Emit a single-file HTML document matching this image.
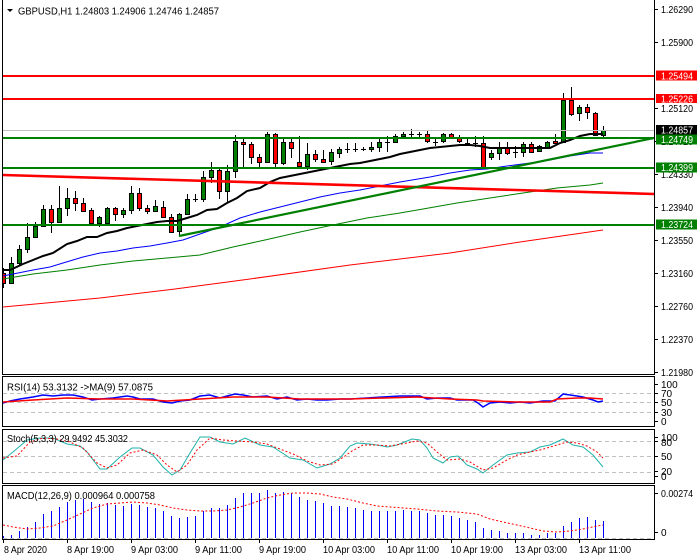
<!DOCTYPE html>
<html><head><meta charset="utf-8"><style>
html,body{margin:0;padding:0;background:#fff;}
svg{display:block;font-family:"Liberation Sans",sans-serif;}
</style></head><body>
<svg width="700" height="560" viewBox="0 0 700 560" xmlns="http://www.w3.org/2000/svg">
<defs>
<clipPath id="cm"><rect x="3" y="0" width="651" height="374"/></clipPath>
<clipPath id="cr"><rect x="3" y="377" width="651" height="49"/></clipPath>
<clipPath id="cs"><rect x="3" y="430" width="651" height="53"/></clipPath>
<clipPath id="cd"><rect x="3" y="486" width="651" height="53"/></clipPath>
</defs>
<rect width="700" height="560" fill="#fff"/>

<!-- MAIN PANE -->
<g clip-path="url(#cm)">
<path fill="none" stroke="#000" stroke-width="1" d="M3.5 268V288M11.5 257V283M19.5 245V265M27.5 223V253M35.5 222V238M43.5 205V227M51.5 205V233M59.5 186V222M67.5 188V216M75.5 191V211M83.5 198V212M91.5 208V224M99.5 216V227M107.5 207V224M115.5 207V221M123.5 208V218M131.5 186V214M139.5 188V211M147.5 205V214M155.5 200V212M163.5 201V218M171.5 214V233M179.5 213V236M187.5 194V215M195.5 194V202M203.5 171V202M211.5 162V183M219.5 167V199M227.5 165V203M235.5 135V178M243.5 139V167M251.5 142V164M259.5 154V167M267.5 132V163M275.5 133V167M283.5 139V165M291.5 139V158M299.5 136V167M307.5 143V170M315.5 150V162M323.5 150V163M331.5 149V165M339.5 147V158M347.5 143V153M355.5 143V152M363.5 147V151M371.5 142V152M379.5 137V152M387.5 136V152M395.5 134V143M403.5 132V138M411.5 129V139M419.5 132V137M427.5 131V143M435.5 138V146M443.5 133V143M451.5 133V139M459.5 135V143M467.5 138V144M475.5 136V147M483.5 136V168M491.5 150V160M499.5 142V160M507.5 142V155M515.5 146V158M523.5 142V157M531.5 142V153M539.5 145V152M547.5 141V148M555.5 134V144M563.5 93V143M571.5 87V116M579.5 105V121M587.5 104V119M595.5 112V136M603.5 126V137"/>
<path fill="none" stroke="#000" stroke-width="1" d="M193 199.5H198M345 149.5H350M353 149.5H358M361 149.5H366M385 142.5H390M409 134.5H414M417 134.5H422M433 142.5H438M465 143.5H470M473 143.5H478M513 152.5H518"/>
<g fill="#008000" stroke="#000" stroke-width="1">
<rect x="9.5" y="263.5" width="4" height="20"/>
<rect x="17.5" y="249.5" width="4" height="14"/>
<rect x="25.5" y="237.5" width="4" height="12"/>
<rect x="33.5" y="226.5" width="4" height="11"/>
<rect x="41.5" y="209.5" width="4" height="17"/>
<rect x="57.5" y="208.5" width="4" height="14"/>
<rect x="65.5" y="198.5" width="4" height="10"/>
<rect x="97.5" y="217.5" width="4" height="6"/>
<rect x="105.5" y="208.5" width="4" height="15"/>
<rect x="121.5" y="210.5" width="4" height="4"/>
<rect x="129.5" y="193.5" width="4" height="17"/>
<rect x="153.5" y="206.5" width="4" height="5"/>
<rect x="177.5" y="214.5" width="4" height="17"/>
<rect x="185.5" y="199.5" width="4" height="15"/>
<rect x="201.5" y="177.5" width="4" height="22"/>
<rect x="209.5" y="170.5" width="4" height="7"/>
<rect x="225.5" y="171.5" width="4" height="20"/>
<rect x="233.5" y="141.5" width="4" height="30"/>
<rect x="265.5" y="134.5" width="4" height="28"/>
<rect x="281.5" y="142.5" width="4" height="21"/>
<rect x="305.5" y="154.5" width="4" height="12"/>
<rect x="329.5" y="152.5" width="4" height="9"/>
<rect x="337.5" y="149.5" width="4" height="4"/>
<rect x="369.5" y="147.5" width="4" height="2"/>
<rect x="377.5" y="142.5" width="4" height="5"/>
<rect x="393.5" y="136.5" width="4" height="6"/>
<rect x="401.5" y="134.5" width="4" height="2"/>
<rect x="441.5" y="134.5" width="4" height="7"/>
<rect x="489.5" y="153.5" width="4" height="4"/>
<rect x="497.5" y="148.5" width="4" height="5"/>
<rect x="521.5" y="144.5" width="4" height="8"/>
<rect x="537.5" y="146.5" width="4" height="5"/>
<rect x="545.5" y="142.5" width="4" height="5"/>
<rect x="561.5" y="100.5" width="4" height="42"/>
<rect x="577.5" y="107.5" width="4" height="6"/>
<rect x="601.5" y="130.5" width="4" height="5"/>
</g>
<g fill="#ff0000" stroke="#000" stroke-width="1">
<rect x="1.5" y="273.5" width="4" height="10"/>
<rect x="49.5" y="209.5" width="4" height="13"/>
<rect x="73.5" y="198.5" width="4" height="5"/>
<rect x="81.5" y="203.5" width="4" height="8"/>
<rect x="89.5" y="210.5" width="4" height="13"/>
<rect x="113.5" y="208.5" width="4" height="6"/>
<rect x="137.5" y="193.5" width="4" height="15"/>
<rect x="145.5" y="208.5" width="4" height="3"/>
<rect x="161.5" y="207.5" width="4" height="10"/>
<rect x="169.5" y="217.5" width="4" height="15"/>
<rect x="217.5" y="170.5" width="4" height="21"/>
<rect x="241.5" y="142.5" width="4" height="2"/>
<rect x="249.5" y="144.5" width="4" height="13"/>
<rect x="257.5" y="157.5" width="4" height="5"/>
<rect x="273.5" y="134.5" width="4" height="29"/>
<rect x="289.5" y="142.5" width="4" height="6"/>
<rect x="297.5" y="162.5" width="4" height="4"/>
<rect x="313.5" y="154.5" width="4" height="5"/>
<rect x="321.5" y="159.5" width="4" height="3"/>
<rect x="425.5" y="134.5" width="4" height="7"/>
<rect x="449.5" y="134.5" width="4" height="3"/>
<rect x="457.5" y="137.5" width="4" height="4"/>
<rect x="481.5" y="143.5" width="4" height="24"/>
<rect x="505.5" y="148.5" width="4" height="5"/>
<rect x="529.5" y="144.5" width="4" height="8"/>
<rect x="553.5" y="141.5" width="4" height="2"/>
<rect x="569.5" y="100.5" width="4" height="14"/>
<rect x="585.5" y="107.5" width="4" height="5"/>
<rect x="593.5" y="113.5" width="4" height="22"/>
</g>

<polyline fill="none" stroke="#ff0000" stroke-width="1" points="3,307 100,298 175,289 250,279 350,265 450,253 520,242 603,230"/>
<polyline fill="none" stroke="#008000" stroke-width="1" points="3,279 33,274 67,270 100,265 133,261 167,258 200,255 233,247 265,240 300,232 333,225 367,218 400,213 423,209 457,203 490,198 523,193 557,188 590,185 603,183"/>
<polyline fill="none" stroke="#0000ff" stroke-width="1" points="3,276 13,274 33,270 50,267 63,263 83,257 100,253 117,251 133,248 150,246 167,243 183,240 200,234 220,227 240,218 260,212 280,207 300,202 320,197 340,193 360,190 380,186 400,182 430,177 450,173 470,170 487,169 507,166 530,163 550,160 570,156 590,153 603,153"/>
<polyline fill="none" stroke="#000" stroke-width="2" points="3,270 10,270 23,264 33,260 43,256 53,253 67,244 77,241 87,237 97,237 107,233 117,231 127,228 137,226 147,224 157,222 167,221 177,221 187,218 197,215 207,210 217,209 227,203 237,198 247,191 260,188 270,182 280,178 290,176 300,174 310,172 320,170 330,168 340,166 350,164 360,163 370,161 380,159 390,157 400,154 410,152 420,150 430,148 440,147 450,146 460,145 470,145 480,146 490,148 550,148 560,143 570,140 580,136 590,134 603,134"/>

<line x1="3" y1="76" x2="654" y2="76" stroke="#ff0000" stroke-width="2"/>
<line x1="3" y1="99" x2="654" y2="99" stroke="#ff0000" stroke-width="2"/>
<line x1="3" y1="130.5" x2="654" y2="130.5" stroke="#c0c0c0" stroke-width="1"/>
<line x1="3" y1="138" x2="654" y2="138" stroke="#008000" stroke-width="2"/>
<line x1="3" y1="168" x2="654" y2="168" stroke="#008000" stroke-width="2"/>
<line x1="3" y1="225" x2="654" y2="225" stroke="#008000" stroke-width="2"/>
<line x1="3" y1="175" x2="654" y2="194" stroke="#ff0000" stroke-width="2.6"/>
<line x1="179" y1="236" x2="654" y2="138" stroke="#008000" stroke-width="2.2"/>
</g>

<polygon points="7,9 13,9 10,12" fill="#000"/>
<text x="18" y="14.5" font-size="10" textLength="201" lengthAdjust="spacingAndGlyphs">GBPUSD,H1  1.24803 1.24906 1.24746 1.24857</text>

<g fill="none" stroke="#000" stroke-width="1">
<path d="M2.5 0V374.5H654.5V0"/>
<rect x="2.5" y="376.5" width="652" height="50"/>
<rect x="2.5" y="429.5" width="652" height="54"/>
<rect x="2.5" y="485.5" width="652" height="54"/>
</g>

<path stroke="#000" stroke-width="1" d="M655 9.5H658M655 42.5H658M655 108.5H658M655 141.5H658M655 174.5H658M655 207.5H658M655 240.5H658M655 273.5H658M655 306.5H658M655 339.5H658M655 372.5H658M655 384.5H658M655 393.5H658M655 402.5H658M655 412.5H658M655 421.5H658M655 437.5H658M655 441.5H658M655 456.5H658M655 471.5H658M655 476.5H658M655 493.5H658M655 532.5H658"/>

<g font-size="10" fill="#000">
<text x="661" y="13" textLength="32" lengthAdjust="spacingAndGlyphs">1.26290</text>
<text x="661" y="46" textLength="32" lengthAdjust="spacingAndGlyphs">1.25900</text>
<text x="661" y="112" textLength="32" lengthAdjust="spacingAndGlyphs">1.25120</text>
<text x="661" y="145" textLength="32" lengthAdjust="spacingAndGlyphs">1.24720</text>
<text x="661" y="178" textLength="32" lengthAdjust="spacingAndGlyphs">1.24330</text>
<text x="661" y="211" textLength="32" lengthAdjust="spacingAndGlyphs">1.23940</text>
<text x="661" y="244" textLength="32" lengthAdjust="spacingAndGlyphs">1.23550</text>
<text x="661" y="277" textLength="32" lengthAdjust="spacingAndGlyphs">1.23160</text>
<text x="661" y="310" textLength="32" lengthAdjust="spacingAndGlyphs">1.22760</text>
<text x="661" y="343" textLength="32" lengthAdjust="spacingAndGlyphs">1.22370</text>
<text x="661" y="376" textLength="32" lengthAdjust="spacingAndGlyphs">1.21980</text>
</g>
<rect x="656" y="70.5" width="41" height="10" fill="#ff0000"/>
<text x="661" y="79.5" font-size="10" fill="#fff" textLength="32" lengthAdjust="spacingAndGlyphs">1.25494</text>
<rect x="656" y="94" width="41" height="9" fill="#ff0000"/>
<text x="661" y="102.5" font-size="10" fill="#fff" textLength="32" lengthAdjust="spacingAndGlyphs">1.25226</text>
<rect x="656" y="125" width="41" height="10" fill="#000"/>
<text x="661" y="133.5" font-size="10" fill="#fff" textLength="32" lengthAdjust="spacingAndGlyphs">1.24857</text>
<rect x="656" y="134.5" width="41" height="10" fill="#008000"/>
<text x="661" y="143" font-size="10" fill="#fff" textLength="32" lengthAdjust="spacingAndGlyphs">1.24749</text>
<rect x="656" y="162.5" width="41" height="10" fill="#008000"/>
<text x="661" y="171" font-size="10" fill="#fff" textLength="32" lengthAdjust="spacingAndGlyphs">1.24399</text>
<rect x="656" y="219.5" width="41" height="10" fill="#008000"/>
<text x="661" y="228" font-size="10" fill="#fff" textLength="32" lengthAdjust="spacingAndGlyphs">1.23724</text>

<g clip-path="url(#cr)">
<path stroke="#c0c0c0" stroke-width="1" stroke-dasharray="4,3" d="M3 393.5H654M3 402.5H654M3 412.5H654"/>
<polyline fill="none" stroke="#0000ff" stroke-width="1.5" points="3,403 10,401 20,399 33,397 43,395 53,396 63,395 73,395 83,397 92,400 100,399 113,398 127,396 133,397 140,399 153,399 163,402 172,403 180,401 190,400 200,396 210,395 220,398 227,396 235,394 243,395 253,397 267,396 277,399 287,397 297,400 307,399 317,400 327,400 340,399 350,399 367,398 383,397 400,396 420,396 427,399 437,398 450,398 457,400 473,400 478,403 483,407 490,403 500,402 510,403 520,402 530,403 543,401 555,401 563,394 570,395 577,396 583,397 593,400 598,402 603,401"/>
<polyline fill="none" stroke="#ff0000" stroke-width="1.5" points="3,402 33,400 67,398 100,399 133,399 167,401 200,399 233,397 267,397 300,399 350,399 417,397 450,399 477,400 483,401 517,402 550,402 557,399 577,398 590,398 603,399"/>
</g>
<text x="7" y="390.5" font-size="10" textLength="146" lengthAdjust="spacingAndGlyphs">RSI(14) 53.3132 -&gt;MA(9) 57.0875</text>
<g font-size="10">
<text x="661" y="388">100</text>
<text x="661" y="397">70</text>
<text x="661" y="406">50</text>
<text x="661" y="416">30</text>
<text x="661" y="425">0</text>
</g>

<g clip-path="url(#cs)">
<path stroke="#c0c0c0" stroke-width="1" stroke-dasharray="4,3" d="M3 441.5H654M3 456.5H654M3 472.5H654"/>
<polyline fill="none" stroke="#20b2aa" stroke-width="1" points="3,460 13,452 27,440 40,438 53,438 67,444 80,446 87,452 100,469 107,469 120,457 132,448 140,448 153,455 163,467 172,475 180,470 190,453 200,437 210,437 220,442 233,444 245,438 260,445 273,447 290,458 303,460 317,468 330,464 340,458 350,446 357,443 370,444 383,446 387,447 397,445 407,441 412,439 420,440 427,448 433,458 443,463 450,457 458,456 467,465 477,469 483,473 493,465 507,455 517,453 530,452 540,447 550,445 563,439 573,445 583,447 593,455 603,467"/>
<polyline fill="none" stroke="#ff0000" stroke-width="1" stroke-dasharray="2,2" points="3,458 17,456 30,442 43,438 57,439 70,442 83,448 97,463 107,468 117,465 130,453 143,450 157,455 167,465 177,472 187,465 197,450 210,438 223,440 237,441 253,442 267,444 280,449 293,454 307,461 320,465 333,464 345,456 352,451 363,445 377,445 390,446 407,443 417,441 427,443 437,452 447,460 460,459 470,462 483,470 493,468 507,460 517,455 530,452 540,450 557,445 567,442 577,443 587,446 597,452 603,458"/>
</g>
<text x="7" y="442" font-size="10" textLength="121" lengthAdjust="spacingAndGlyphs">Stoch(5,3,3) 29.9492 45.3032</text>
<g font-size="10">
<text x="661" y="441">100</text>
<text x="661" y="446">80</text>
<text x="661" y="460">50</text>
<text x="661" y="475">20</text>
<text x="661" y="480">0</text>
</g>

<g clip-path="url(#cd)">
<path stroke="#c0c0c0" stroke-width="1" stroke-dasharray="4,3" d="M3 538.5H654"/>
<path stroke="#0000ff" stroke-width="1" d="M3.5 538V536M11.5 538V535M19.5 538V531M27.5 538V527M35.5 538V522M43.5 538V514M51.5 538V511M59.5 538V507M67.5 538V502M75.5 538V500M83.5 538V499M91.5 538V502M99.5 538V504M107.5 538V503M115.5 538V505M123.5 538V506M131.5 538V504M139.5 538V505M147.5 538V507M155.5 538V508M163.5 538V511M171.5 538V516M179.5 538V518M187.5 538V517M195.5 538V516M203.5 538V511M211.5 538V508M219.5 538V508M227.5 538V505M235.5 538V498M243.5 538V493M251.5 538V493M259.5 538V493M267.5 538V490M275.5 538V493M283.5 538V492M291.5 538V493M299.5 538V497M307.5 538V500M315.5 538V501M323.5 538V503M331.5 538V506M339.5 538V506M347.5 538V507M355.5 538V508M363.5 538V510M371.5 538V511M379.5 538V511M387.5 538V511M395.5 538V511M403.5 538V510M411.5 538V511M419.5 538V511M427.5 538V513M435.5 538V515M443.5 538V515M451.5 538V516M459.5 538V518M467.5 538V520M475.5 538V522M483.5 538V528M491.5 538V530M499.5 538V531M507.5 538V533M515.5 538V533M523.5 538V533M531.5 538V535M539.5 538V535M547.5 538V533M555.5 538V533M563.5 538V526M571.5 538V522M579.5 538V518M587.5 538V517M595.5 538V520M603.5 538V521"/>
<polyline fill="none" stroke="#ff0000" stroke-width="1" stroke-dasharray="2,2" points="3,525 13,527 27,529 40,528 53,526 67,520 80,514 93,508 107,504 120,503 133,502 147,503 160,505 173,508 187,510 200,511 213,511 227,510 240,507 253,503 267,498 280,495 293,493 307,493 320,494 333,497 347,499 363,503 377,506 390,507 417,509 437,511 457,512 477,514 490,519 503,522 517,525 530,528 543,531 557,532 570,531 583,529 597,526 603,525"/>
</g>
<text x="7" y="499" font-size="10" textLength="148" lengthAdjust="spacingAndGlyphs">MACD(12,26,9) 0.000964 0.000758</text>
<g font-size="10">
<text x="661" y="497" textLength="32" lengthAdjust="spacingAndGlyphs">0.00274</text>
<text x="661" y="536">0</text>
</g>

<path stroke="#000" stroke-width="1" d="M3.5 540V543M67.5 540V543M131.5 540V543M195.5 540V543M259.5 540V543M323.5 540V543M387.5 540V543M451.5 540V543M515.5 540V543M579.5 540V543"/>
<g font-size="10">
<text x="4" y="553" textLength="43" lengthAdjust="spacingAndGlyphs">8 Apr 2020</text>
<text x="67" y="553" textLength="47" lengthAdjust="spacingAndGlyphs">8 Apr 19:00</text>
<text x="131" y="553" textLength="47" lengthAdjust="spacingAndGlyphs">9 Apr 03:00</text>
<text x="195" y="553" textLength="47" lengthAdjust="spacingAndGlyphs">9 Apr 11:00</text>
<text x="259" y="553" textLength="47" lengthAdjust="spacingAndGlyphs">9 Apr 19:00</text>
<text x="323" y="553" textLength="52" lengthAdjust="spacingAndGlyphs">10 Apr 03:00</text>
<text x="387" y="553" textLength="52" lengthAdjust="spacingAndGlyphs">10 Apr 11:00</text>
<text x="451" y="553" textLength="52" lengthAdjust="spacingAndGlyphs">10 Apr 19:00</text>
<text x="515" y="553" textLength="52" lengthAdjust="spacingAndGlyphs">13 Apr 03:00</text>
<text x="579" y="553" textLength="52" lengthAdjust="spacingAndGlyphs">13 Apr 11:00</text>
</g>
</svg>
</body></html>
